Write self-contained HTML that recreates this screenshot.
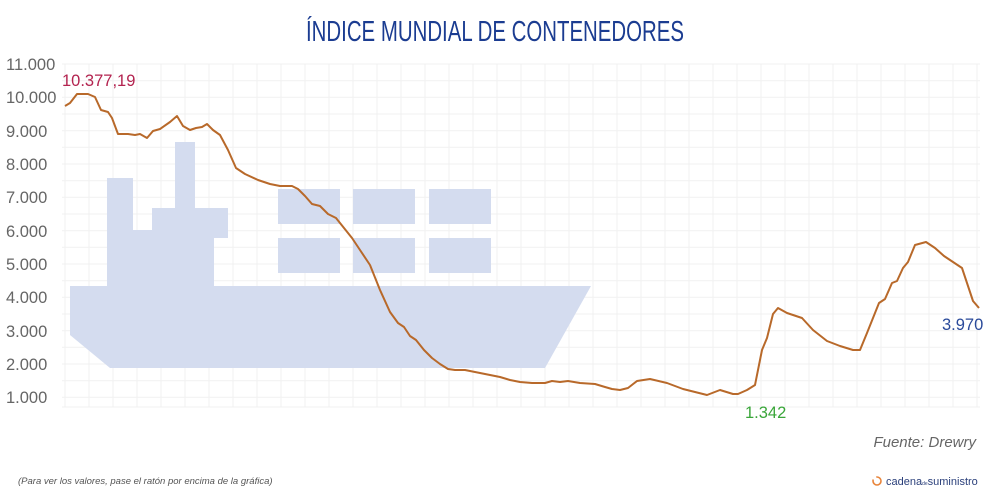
<!DOCTYPE html>
<html><head><meta charset="utf-8"><style>
html,body{margin:0;padding:0;background:#fff;width:1000px;height:500px;overflow:hidden}
svg{display:block}
</style></head><body>
<svg width="1000" height="500" viewBox="0 0 1000 500" xmlns="http://www.w3.org/2000/svg">
<text x="495" y="41" text-anchor="middle" font-family="'Liberation Sans Narrow','Liberation Sans',sans-serif" font-size="29" fill="#1b3c91" textLength="378" lengthAdjust="spacingAndGlyphs">ÍNDICE MUNDIAL DE CONTENEDORES</text>
<g stroke="#f1f1f1" stroke-width="1">
<line x1="62" y1="64" x2="980" y2="64"/><line x1="62" y1="80.7" x2="980" y2="80.7"/><line x1="62" y1="97.3" x2="980" y2="97.3"/><line x1="62" y1="114" x2="980" y2="114"/><line x1="62" y1="130.7" x2="980" y2="130.7"/><line x1="62" y1="147.3" x2="980" y2="147.3"/><line x1="62" y1="164" x2="980" y2="164"/><line x1="62" y1="180.7" x2="980" y2="180.7"/><line x1="62" y1="197.3" x2="980" y2="197.3"/><line x1="62" y1="214" x2="980" y2="214"/><line x1="62" y1="230.7" x2="980" y2="230.7"/><line x1="62" y1="247.3" x2="980" y2="247.3"/><line x1="62" y1="264" x2="980" y2="264"/><line x1="62" y1="280.7" x2="980" y2="280.7"/><line x1="62" y1="297.3" x2="980" y2="297.3"/><line x1="62" y1="314" x2="980" y2="314"/><line x1="62" y1="330.7" x2="980" y2="330.7"/><line x1="62" y1="347.3" x2="980" y2="347.3"/><line x1="62" y1="364" x2="980" y2="364"/><line x1="62" y1="380.7" x2="980" y2="380.7"/><line x1="62" y1="397.3" x2="980" y2="397.3"/><line x1="62" y1="407" x2="980" y2="407"/>
<line x1="65" y1="64" x2="65" y2="407"/><line x1="89" y1="64" x2="89" y2="407"/><line x1="113" y1="64" x2="113" y2="407"/><line x1="137" y1="64" x2="137" y2="407"/><line x1="161" y1="64" x2="161" y2="407"/><line x1="185" y1="64" x2="185" y2="407"/><line x1="209" y1="64" x2="209" y2="407"/><line x1="233" y1="64" x2="233" y2="407"/><line x1="257" y1="64" x2="257" y2="407"/><line x1="281" y1="64" x2="281" y2="407"/><line x1="305" y1="64" x2="305" y2="407"/><line x1="329" y1="64" x2="329" y2="407"/><line x1="353" y1="64" x2="353" y2="407"/><line x1="377" y1="64" x2="377" y2="407"/><line x1="401" y1="64" x2="401" y2="407"/><line x1="425" y1="64" x2="425" y2="407"/><line x1="449" y1="64" x2="449" y2="407"/><line x1="473" y1="64" x2="473" y2="407"/><line x1="497" y1="64" x2="497" y2="407"/><line x1="521" y1="64" x2="521" y2="407"/><line x1="545" y1="64" x2="545" y2="407"/><line x1="569" y1="64" x2="569" y2="407"/><line x1="593" y1="64" x2="593" y2="407"/><line x1="617" y1="64" x2="617" y2="407"/><line x1="641" y1="64" x2="641" y2="407"/><line x1="665" y1="64" x2="665" y2="407"/><line x1="689" y1="64" x2="689" y2="407"/><line x1="713" y1="64" x2="713" y2="407"/><line x1="737" y1="64" x2="737" y2="407"/><line x1="761" y1="64" x2="761" y2="407"/><line x1="785" y1="64" x2="785" y2="407"/><line x1="809" y1="64" x2="809" y2="407"/><line x1="833" y1="64" x2="833" y2="407"/><line x1="857" y1="64" x2="857" y2="407"/><line x1="881" y1="64" x2="881" y2="407"/><line x1="905" y1="64" x2="905" y2="407"/><line x1="929" y1="64" x2="929" y2="407"/><line x1="953" y1="64" x2="953" y2="407"/><line x1="977" y1="64" x2="977" y2="407"/>
</g>
<g fill="#d4dcef">
<polygon points="70,286 591,286 545,368 110,368 70,335"/>
<rect x="107" y="178" width="26" height="108"/>
<rect x="133" y="230" width="20" height="56"/>
<rect x="152" y="208" width="62" height="78"/>
<rect x="152" y="208" width="76" height="30"/>
<rect x="175" y="142" width="20" height="66"/>
<rect x="278" y="189" width="62" height="35"/><rect x="353" y="189" width="62" height="35"/><rect x="429" y="189" width="62" height="35"/>
<rect x="278" y="238" width="62" height="35"/><rect x="353" y="238" width="62" height="35"/><rect x="429" y="238" width="62" height="35"/>
</g>
<g font-family="'Liberation Sans',sans-serif" font-size="16.5" fill="#666">
<text x="6" y="70">11.000</text><text x="6" y="103">10.000</text><text x="6" y="137">9.000</text><text x="6" y="170">8.000</text><text x="6" y="203">7.000</text><text x="6" y="237">6.000</text><text x="6" y="270">5.000</text><text x="6" y="303">4.000</text><text x="6" y="337">3.000</text><text x="6" y="370">2.000</text><text x="6" y="403">1.000</text>
</g>
<polyline fill="none" stroke="#b8692a" stroke-width="2" stroke-linejoin="round" points="65,106 70,103 77,94 88,94 95,97 101,110 108,112 112,118 118,134 128,134 135,135 140,134 147,138 153,131 160,129 170,122 177,116 183,126 190,130 196,128 202,127 207,124 213,130 220,135 228,150 236,168 245,174 258,180 270,184 280,186 292,186 298,189 305,196 312,204 320,206 328,214 336,218 344,228 352,238 360,250 370,265 380,290 390,312 398,323 404,327 410,336 416,340 424,350 432,358 440,364 448,369 455,370 465,370 475,372 490,375 500,377 510,380 520,382 532,383 545,383 552,381 560,382 568,381 580,383 595,384 605,387 612,389 620,390 628,388 637,381 650,379 667,383 683,389 707,395 720,390 733,394 738,394 747,390 755,385 762,350 767,338 773,314 778,308 787,313 802,318 813,330 827,341 840,346 853,350 860,350 867,333 873,318 879,303 885,299 892,283 897,281 903,268 908,262 915,245 926,242 935,248 944,256 962,268 967,283 973,301 979,308"/>
<g font-family="'Liberation Sans',sans-serif" font-size="16.5">
<text x="62" y="86" fill="#b3234f">10.377,19</text>
<text x="942" y="330" fill="#2a4a9a">3.970</text>
<text x="745" y="418" fill="#3aa63a">1.342</text>
<text x="976" y="447" text-anchor="end" fill="#666" font-style="italic" font-size="15">Fuente: Drewry</text>
</g>
<text x="18" y="484" font-family="'Liberation Sans',sans-serif" font-size="9.5" font-style="italic" fill="#555">(Para ver los valores, pase el ratón por encima de la gráfica)</text>
<circle cx="877" cy="481" r="4" fill="none" stroke="#e8843a" stroke-width="1.6" stroke-dasharray="14 4"/>
<text x="886" y="485" font-family="'Liberation Sans',sans-serif" font-size="11" fill="#2a3f7a">cadena<tspan font-size="5">de</tspan>suministro</text>
</svg>
</body></html>
